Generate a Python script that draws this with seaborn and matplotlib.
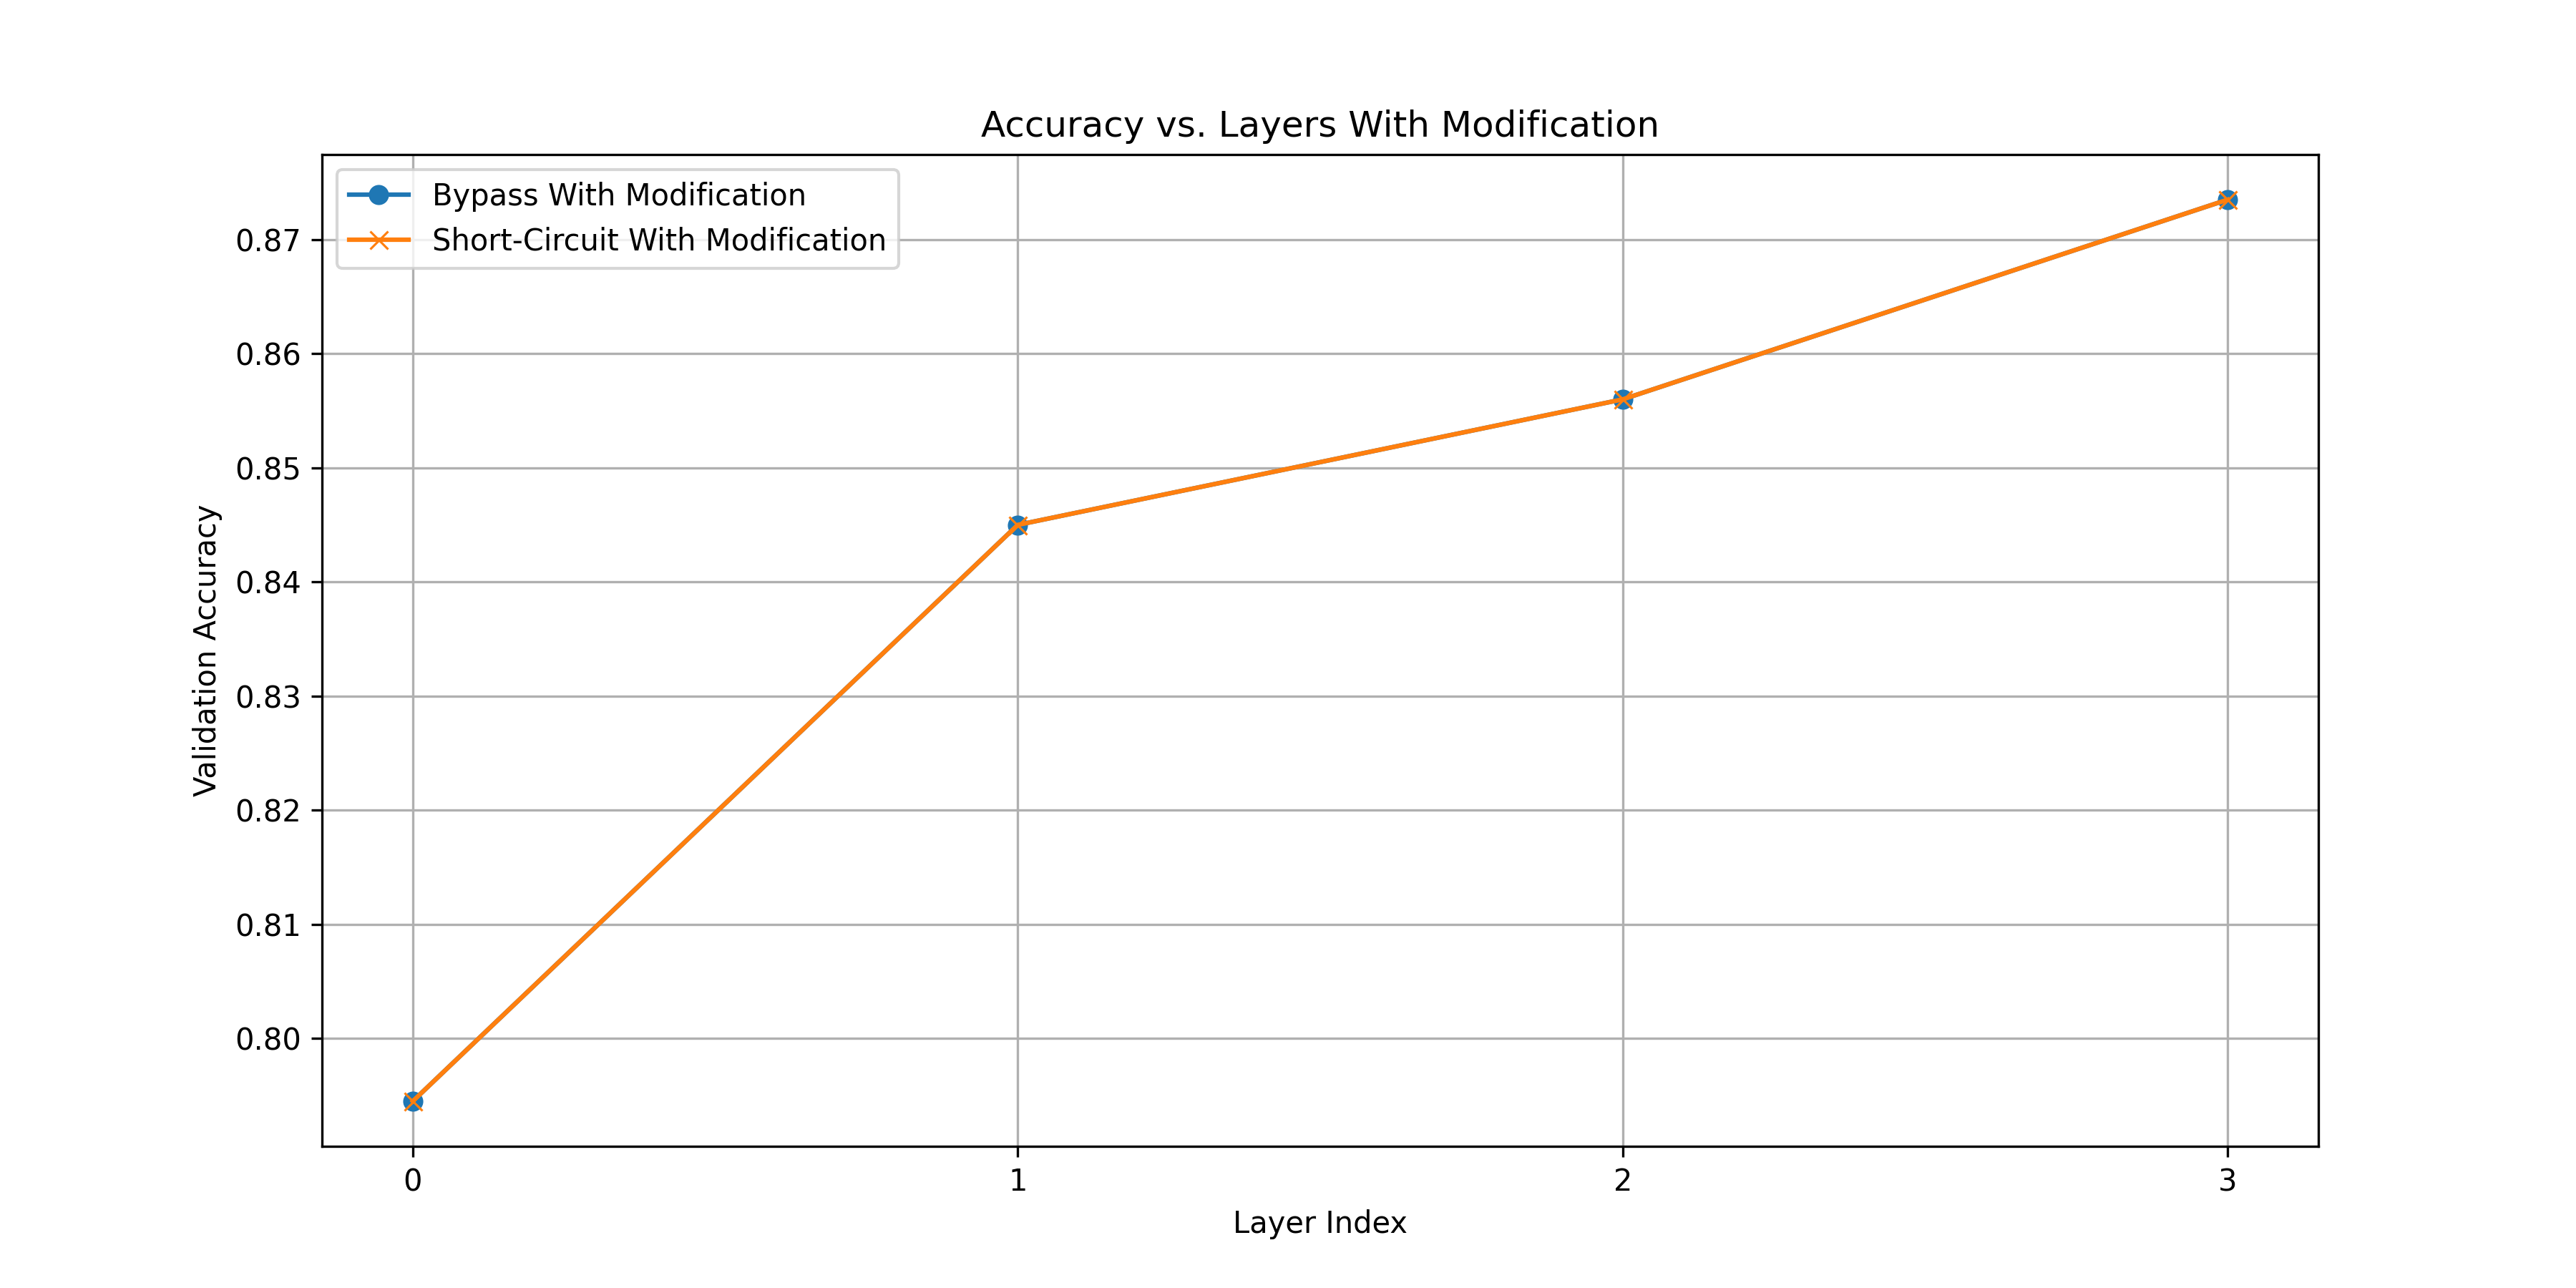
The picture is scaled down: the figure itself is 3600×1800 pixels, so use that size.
import matplotlib
matplotlib.use("Agg")
import matplotlib.pyplot as plt
import seaborn as sns

layers = [0, 1, 2, 3]
bypass_acc = [0.7945, 0.8450, 0.8560, 0.8735]
short_acc = [0.7945, 0.8450, 0.8560, 0.8735]

fig, ax = plt.subplots(figsize=(12, 6))
sns.lineplot(x=layers, y=bypass_acc, marker='o', color='#1f77b4', markeredgecolor='#1f77b4',
             label='Bypass With Modification', ax=ax)
sns.lineplot(x=layers, y=short_acc, marker='x', color='#ff7f0e', markeredgecolor='#ff7f0e',
             label='Short-Circuit With Modification', ax=ax)
ax.set_xticks(layers)
ax.set_title('Accuracy vs. Layers With Modification')
ax.set_xlabel('Layer Index')
ax.set_ylabel('Validation Accuracy')
ax.grid(True)
ax.legend(loc='upper left')
plt.savefig("out.png", dpi=300)
